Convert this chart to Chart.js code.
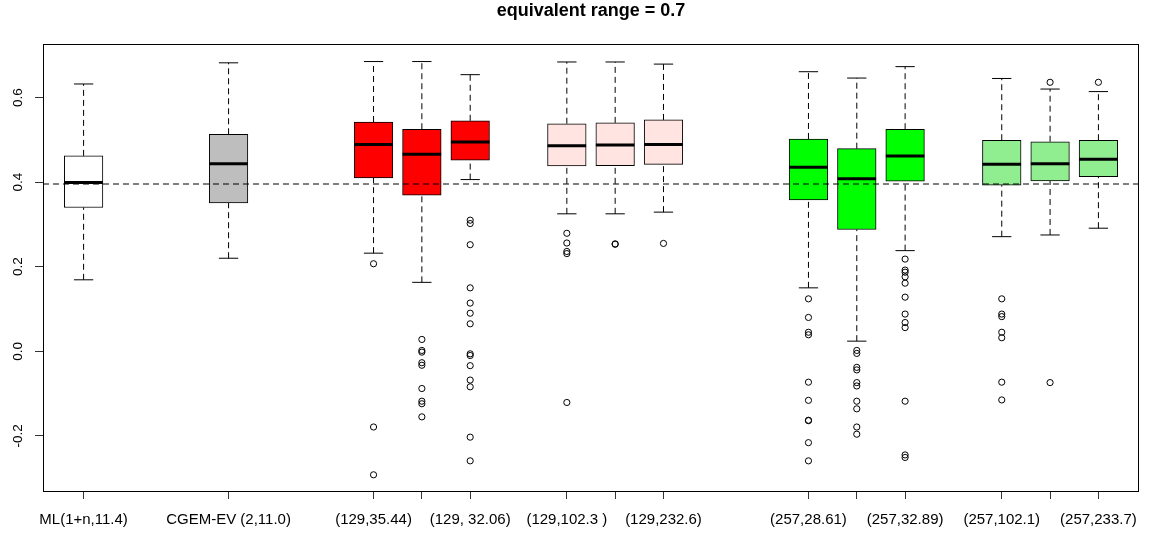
<!DOCTYPE html>
<html>
<head>
<meta charset="utf-8">
<script src="https://cdn.jsdelivr.net/npm/chart.js@4.4.1/dist/chart.umd.min.js"></script>
<style>
  html, body { margin: 0; padding: 0; background: #ffffff; }
  #wrap { width: 1153px; height: 534px; }
</style>
</head>
<body>
<div id="wrap"><canvas id="c" width="1153" height="534"></canvas></div>
<script>
// ---- data ----
const positions = [1, 4, 7, 8, 9, 11, 12, 13, 16, 17, 18, 20, 21, 22];
const tickLabels = ['ML(1+n,11.4)', 'CGEM-EV (2,11.0)', '(129,35.44)', '', '(129, 32.06)',
  '(129,102.3 )', '', '(129,232.6)', '(257,28.61)', '', '(257,32.89)', '(257,102.1)', '', '(257,233.7)'];
const whiskerLow  = [0.169, 0.220, 0.232, 0.163, 0.406, 0.325, 0.325, 0.329, 0.150, 0.024, 0.238, 0.271, 0.275, 0.291];
const quartile1   = [0.340, 0.351, 0.410, 0.369, 0.452, 0.438, 0.439, 0.442, 0.358, 0.288, 0.402, 0.393, 0.403, 0.413];
const medians     = [0.399, 0.4435, 0.489, 0.466, 0.495, 0.486, 0.488, 0.489, 0.435, 0.408, 0.462, 0.442, 0.4435, 0.454];
const quartile3   = [0.462, 0.513, 0.542, 0.525, 0.545, 0.538, 0.540, 0.547, 0.502, 0.479, 0.525, 0.499, 0.4955, 0.499];
const whiskerHigh = [0.632, 0.682, 0.685, 0.685, 0.654, 0.684, 0.684, 0.679, 0.661, 0.646, 0.673, 0.645, 0.620, 0.614];
const outliers = [
  [],
  [],
  [0.207, -0.179, -0.292],
  [0.028, 0.002, -0.002, -0.027, -0.033, -0.088, -0.118, -0.124, -0.155],
  [0.310, 0.302, 0.252, 0.150, 0.114, 0.090, 0.065, -0.006, -0.010, -0.034, -0.068, -0.084, -0.203, -0.259],
  [0.279, 0.256, 0.236, 0.231, -0.121],
  [0.254, 0.253],
  [0.255],
  [0.124, 0.080, 0.045, 0.039, -0.073, -0.116, -0.163, -0.164, -0.216, -0.259],
  [0.002, -0.005, -0.038, -0.044, -0.074, -0.082, -0.118, -0.136, -0.179, -0.196],
  [0.218, 0.192, 0.187, 0.176, 0.161, 0.128, 0.088, 0.068, 0.056, -0.118, -0.245, -0.251],
  [0.124, 0.088, 0.082, 0.045, 0.032, -0.073, -0.115],
  [0.636, -0.074],
  [0.636]
];
const referenceValue = 0.3955;
const yTickValues = [-0.2, 0, 0.2, 0.4, 0.6];
const titleText = 'equivalent range = 0.7';

// ---- styles ----
const boxFill = ['#ffffff', '#bebebe', '#ff0000', '#ff0000', '#ff0000', '#ffe4e1', '#ffe4e1', '#ffe4e1',
  '#00ff00', '#00ff00', '#00ff00', '#90ee90', '#90ee90', '#90ee90'];
const X_MIN = 0.16, X_MAX = 22.84;
const Y_MIN = -0.3303, Y_MAX = 0.7258;
const FONT = "'Liberation Sans', Arial, Helvetica, sans-serif";
const BOX_PX = 38.6;

// ---- derived datasets ----
const boxData = positions.map((p, i) => ({ x: p, y: [quartile1[i], quartile3[i]] }));
const medianData = positions.map((p, i) => ({ x: p, y: medians[i] }));
const capData = [];
const whiskerData = [];
positions.forEach((p, i) => {
  capData.push({ x: p, y: whiskerLow[i] }, { x: p, y: whiskerHigh[i] });
  whiskerData.push({ x: p, y: quartile3[i] }, { x: p, y: whiskerHigh[i] }, { x: p, y: null },
                   { x: p, y: whiskerLow[i] }, { x: p, y: quartile1[i] }, { x: p, y: null });
});
const outlierData = [];
positions.forEach((p, i) => outliers[i].forEach(v => outlierData.push({ x: p, y: v })));

const framePlugin = {
  id: 'frame',
  afterDraw(chart) {
    const { left, top, right, bottom } = chart.chartArea;
    const ctx = chart.ctx;
    ctx.save();
    ctx.strokeStyle = '#000';
    ctx.lineWidth = 1;
    ctx.strokeRect(Math.round(left) + 0.5, Math.round(top) + 0.5,
                   Math.round(right - left) - 1, Math.round(bottom - top));
    ctx.restore();
  }
};

new Chart(document.getElementById('c'), {
  type: 'bar',
  data: {
    datasets: [
      { type: 'line', label: 'reference', order: 0,
        data: [{ x: X_MIN, y: referenceValue }, { x: X_MAX, y: referenceValue }],
        borderColor: '#000', borderWidth: 1, borderDash: [6, 4], pointRadius: 0, fill: false },
      { type: 'scatter', label: 'outliers', order: 1, data: outlierData,
        pointStyle: 'circle', pointRadius: 3.1, pointBorderWidth: 1,
        pointBorderColor: '#000', pointBackgroundColor: 'rgba(0,0,0,0)' },
      { type: 'scatter', label: 'medians', order: 2, data: medianData,
        pointStyle: 'line', pointRadius: BOX_PX / 2, pointBorderWidth: 3, pointBorderColor: '#000' },
      { type: 'scatter', label: 'caps', order: 3, data: capData,
        pointStyle: 'line', pointRadius: BOX_PX / 4, pointBorderWidth: 1, pointBorderColor: '#000' },
      { type: 'bar', label: 'boxes', order: 4, data: boxData,
        backgroundColor: boxFill, borderColor: '#000', borderWidth: 1, borderSkipped: false,
        barThickness: BOX_PX },
      { type: 'line', label: 'whiskers', order: 5, data: whiskerData,
        borderColor: '#000', borderWidth: 1, borderDash: [6, 4], pointRadius: 0,
        spanGaps: false, fill: false }
    ]
  },
  options: {
    responsive: false,
    animation: false,
    devicePixelRatio: 1,
    events: [],
    layout: { autoPadding: false, padding: { left: 0, right: 14, top: 0, bottom: 0 } },
    plugins: {
      legend: { display: false },
      tooltip: { enabled: false },
      title: {
        display: true, text: titleText, color: '#000', fullSize: false,
        font: { family: FONT, size: 18, weight: 'bold', lineHeight: 1.2 },
        padding: { top: 0.5, bottom: 22.2 }
      }
    },
    scales: {
      x: {
        type: 'linear', min: X_MIN, max: X_MAX, offset: false,
        afterBuildTicks: s => { s.ticks = positions.map(v => ({ value: v })); },
        afterFit: s => { s.height = 43; s.paddingLeft = 0; s.paddingRight = 0; },
        grid: { display: true, offset: false, drawOnChartArea: false, drawTicks: true, tickLength: 8, color: '#333' },
        border: { display: false },
        ticks: {
          autoSkip: false, maxRotation: 0, minRotation: 0, padding: 12, color: '#000',
          font: { family: FONT, size: 15 },
          callback: (v) => { const i = positions.indexOf(v); return i >= 0 ? tickLabels[i] : ''; }
        }
      },
      y: {
        type: 'linear', min: Y_MIN, max: Y_MAX,
        afterBuildTicks: s => { s.ticks = yTickValues.map(v => ({ value: v })); },
        afterFit: s => { s.width = 43; s.paddingTop = 0; s.paddingBottom = 0; },
        grid: { display: true, offset: false, drawOnChartArea: false, drawTicks: true, tickLength: 8, color: '#333' },
        border: { display: false },
        ticks: {
          minRotation: 90, maxRotation: 90, crossAlign: 'center', padding: 5, color: '#000',
          font: { family: FONT, size: 13.5 },
          callback: (v) => Number(v).toFixed(1)
        }
      }
    }
  },
  plugins: [framePlugin]
});
</script>
</body>
</html>
